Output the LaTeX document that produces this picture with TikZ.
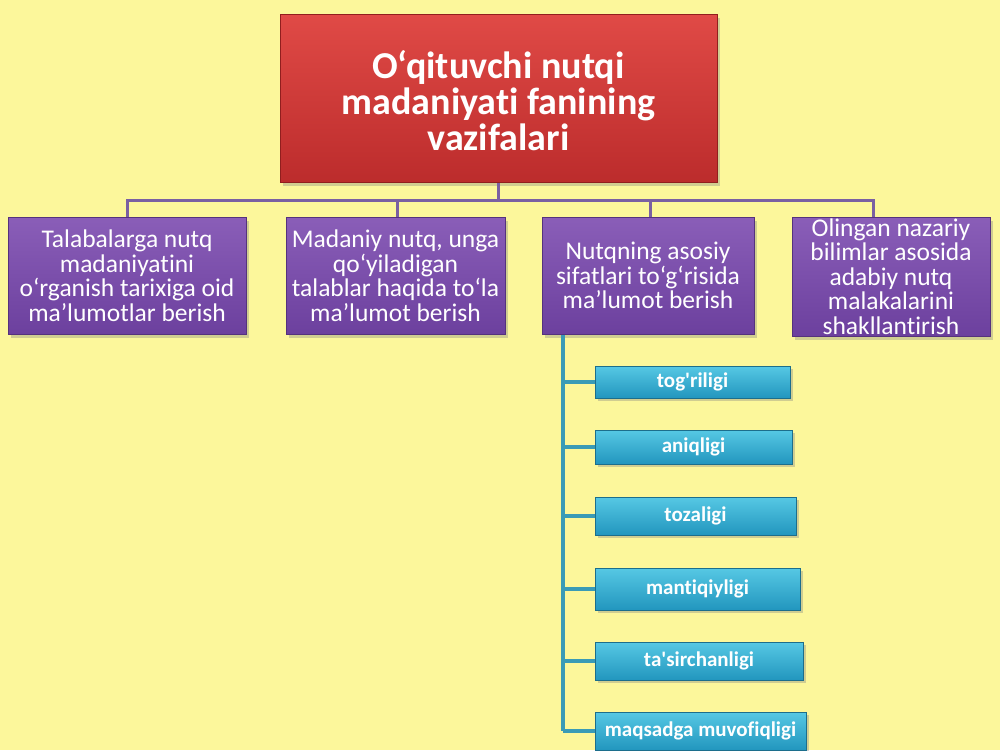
\documentclass[tikz,border=0pt]{standalone}
\usepackage{fontspec}
\setmainfont{Carlito}[Ligatures={TeXOff,CommonOff}]
\usetikzlibrary{shadows}
\definecolor{bgyel}{RGB}{252,247,155}
\definecolor{redtop}{RGB}{224,74,70}
\definecolor{redbot}{RGB}{188,44,44}
\definecolor{redbrd}{RGB}{145,30,30}
\definecolor{purtop}{RGB}{138,94,184}
\definecolor{purbot}{RGB}{108,64,158}
\definecolor{purbrd}{RGB}{85,50,125}
\definecolor{purline}{RGB}{122,96,162}
\definecolor{teatop}{RGB}{86,200,228}
\definecolor{teabot}{RGB}{34,150,190}
\definecolor{teabrd}{RGB}{28,110,140}
\definecolor{tealine}{RGB}{58,155,182}
\tikzset{
  titlebox/.style={rectangle, draw=redbrd, line width=1pt, top color=redtop, bottom color=redbot,
    text=white, align=center, inner sep=0pt, font=\fontsize{38}{36}\selectfont\bfseries,
    drop shadow={shadow xshift=3pt, shadow yshift=-4pt, opacity=0.35}},
  purbox/.style={rectangle, draw=purbrd, line width=1pt, top color=purtop, bottom color=purbot,
    text=white, align=center, inner sep=0pt, font=\fontsize{25.5}{24.5}\selectfont,
    drop shadow={shadow xshift=3pt, shadow yshift=-4pt, opacity=0.35}},
  teabox/.style={rectangle, draw=teabrd, line width=1pt, top color=teatop, bottom color=teabot,
    text=white, align=center, inner sep=0pt, font=\fontsize{21}{22}\selectfont\bfseries,
    drop shadow={shadow xshift=3pt, shadow yshift=-3pt, opacity=0.35}},
  purconn/.style={draw=purline, line width=3pt},
  teaconn/.style={draw=tealine, line width=4pt},
}
\begin{document}
\begin{tikzpicture}[x=1pt,y=-1pt]
\useasboundingbox (0,0) rectangle (1000,750);
\fill[bgyel] (0,0) rectangle (1000,750);

\node[titlebox, minimum width=437pt, minimum height=168pt] (title) at (498.5,98) {};
\node[text=white, align=center, inner sep=0pt, font=\fontsize{38}{36}\selectfont\bfseries]
  (titletext) at (498.5,101) {O‘qituvchi nutqi\\madaniyati fanining\\vazifalari};

\node[purbox, minimum width=238pt, minimum height=117pt] (b1) at (127,275.5)
  {Talabalarga nutq\\madaniyatini\\o‘rganish tarixiga oid\\ma’lumotlar berish};
\node[purbox, minimum width=219pt, minimum height=117pt] (b2) at (395.5,275.5)
  {Madaniy nutq, unga\\qo‘yiladigan\\talablar haqida to‘la\\ma’lumot berish};
\node[purbox, minimum width=212pt, minimum height=117pt] (b3) at (648,275.5)
  {Nutqning asosiy\\sifatlari to‘g‘risida\\ma’lumot berish};
\node[purbox, minimum width=198pt, minimum height=119pt] (b4) at (891,276.5)
  {Olingan nazariy\\bilimlar asosida\\adabiy nutq\\malakalarini\\shakllantirish};

\coordinate (bar) at (0,200);
\coordinate (b4top) at ([xshift=-18pt]b4.north);
\coordinate (b2top) at ([xshift=1.5pt]b2.north);
\coordinate (b3top) at ([xshift=2pt]b3.north);
\draw[purconn] (title.south) -- (title.south |- bar);
\draw[purconn] (b1.north) -- (b1.north |- bar) -- (b4top |- bar) -- (b4top);
\draw[purconn] (b2top) -- (b2top |- bar);
\draw[purconn] (b3top) -- (b3top |- bar);

\node[teabox, minimum width=195pt, minimum height=32pt] (t1) at (692.5,382) {tog'riligi};
\node[teabox, minimum width=197pt, minimum height=34pt] (t2) at (693.5,447) {aniqligi};
\node[teabox, minimum width=201pt, minimum height=38pt] (t3) at (695.5,516) {tozaligi};
\node[teabox, minimum width=205pt, minimum height=42pt] (t4) at (697.5,589) {mantiqiyligi};
\node[teabox, minimum width=208pt, minimum height=38pt] (t5) at (699,661) {ta'sirchanligi};
\node[teabox, minimum width=211pt, minimum height=38pt] (t6) at (700.5,731) {maqsadga muvofiqligi};

\coordinate (spine) at ([xshift=21pt]b3.south west);
\draw[teaconn] (spine) -- (spine |- t6.west);
\foreach \t in {t1,t2,t3,t4,t5,t6}
  \draw[teaconn] (spine |- \t.west) -- (\t.west);
\end{tikzpicture}
\end{document}
